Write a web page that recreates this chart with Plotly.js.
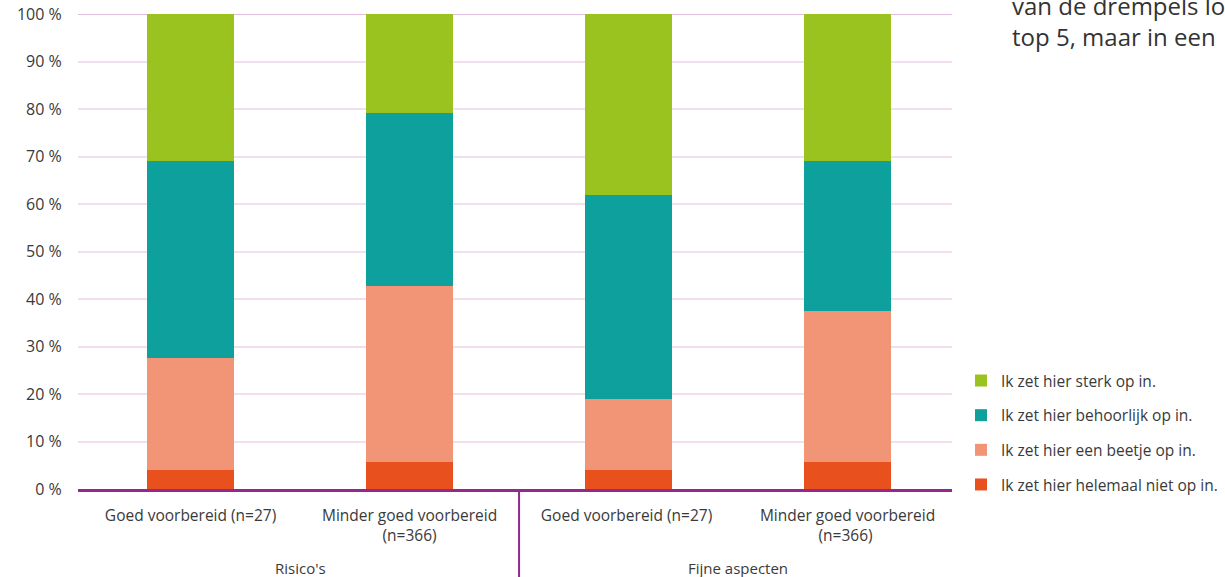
<!DOCTYPE html>
<html>
<head>
<meta charset="utf-8">
<script src="https://cdn.plot.ly/plotly-3.0.1.min.js"></script>
<style>
html,body{margin:0;padding:0;background:#fff;}
#chart{width:1225px;height:577px;}
</style>
</head>
<body>
<div id="chart"></div>
<script>
const categories = ["Goed voorbereid (n=27)", "Minder goed voorbereid<br>(n=366)", "Goed voorbereid (n=27) ", "Minder goed voorbereid<br>(n=366) "];
const groups = ["Risico's", "Fijne aspecten"];
const seriesNames = ["Ik zet hier helemaal niet op in.", "Ik zet hier een beetje op in.", "Ik zet hier behoorlijk op in.", "Ik zet hier sterk op in."];
const helemaal = [4.0, 5.7, 4.0, 5.7];
const beetje = [23.6, 37.0, 14.9, 31.8];
const behoorlijk = [41.4, 36.5, 43.0, 31.5];
const sterk = [31.0, 20.8, 38.1, 31.0];
const yTicks = [0, 10, 20, 30, 40, 50, 60, 70, 80, 90, 100];
const yTickLabels = ["0 %", "10 %", "20 %", "30 %", "40 %", "50 %", "60 %", "70 %", "80 %", "90 %", "100 %"];
const bodyText = ["van de drempels los", "top 5, maar in een"];
const colors = ["#e8501e", "#f29577", "#0ea09c", "#9bc31f"];

const values = [helemaal, beetje, behoorlijk, sterk];
const traces = values.map((v, i) => ({
  type: "bar",
  x: categories,
  y: v,
  name: seriesNames[i],
  legendgroup: "g" + i,
  legendrank: 10 - i,
  marker: {color: colors[i], line: {width: 0}},
  width: 0.4,
  hoverinfo: "y+name"
}));

const font = "'Open Sans', sans-serif";
const txt = "#3a3a3a";
const layout = {
  width: 1225, height: 577,
  margin: {l: 78, r: 273, t: 14, b: 88, autoexpand: false},
  barmode: "stack",
  paper_bgcolor: "#fff", plot_bgcolor: "#fff",
  font: {family: font, size: 15, color: txt},
  xaxis: {
    type: "category",
    range: [-0.514, 3.477],
    showgrid: false,
    showline: true, linecolor: "#96278f", linewidth: 3,
    ticks: "",
    ticklabelstandoff: 10,
    tickfont: {size: 15.5, color: txt},
    zeroline: false,
    fixedrange: true
  },
  yaxis: {
    range: [0, 100],
    tickmode: "array",
    tickvals: yTicks,
    ticktext: yTickLabels,
    gridcolor: "#f1dff0", gridwidth: 2,
    zeroline: false,
    showline: false,
    ticks: "outside", ticklen: 12, tickcolor: "rgba(0,0,0,0)",
    tickfont: {size: 16, color: txt},
    fixedrange: true
  },
  legend: {
    x: 1.0103, xanchor: "left",
    y: 0.118, yanchor: "middle",
    traceorder: "grouped",
    tracegroupgap: 11.5,
    font: {size: 15.5, color: txt},
    itemwidth: 30,
    borderwidth: 0,
    bgcolor: "rgba(0,0,0,0)"
  },
  shapes: [
    {type: "line", xref: "x", yref: "paper", x0: 1.5, x1: 1.5, y0: 0, y1: -0.19, line: {color: "#96278f", width: 2}},
    {type: "line", xref: "paper", yref: "y", x0: 0, x1: 1, y0: 100, y1: 100, layer: "below", line: {color: "#e2bddb", width: 2}}
  ],
  annotations: [
    {xref: "x", yref: "paper", x: 0.5, y: -0.166, text: groups[0], showarrow: false, yanchor: "middle", font: {size: 15, color: txt}},
    {xref: "x", yref: "paper", x: 2.5, y: -0.166, text: groups[1], showarrow: false, yanchor: "middle", font: {size: 15, color: txt}},
    {xref: "paper", yref: "paper", x: 1.066, y: 0.986, text: bodyText.join("<br>"), align: "left", showarrow: false, xanchor: "left", yanchor: "middle", font: {size: 24, color: "#333"}}
  ]
};

Plotly.newPlot("chart", traces, layout, {displayModeBar: false, staticPlot: true});
</script>
</body>
</html>
